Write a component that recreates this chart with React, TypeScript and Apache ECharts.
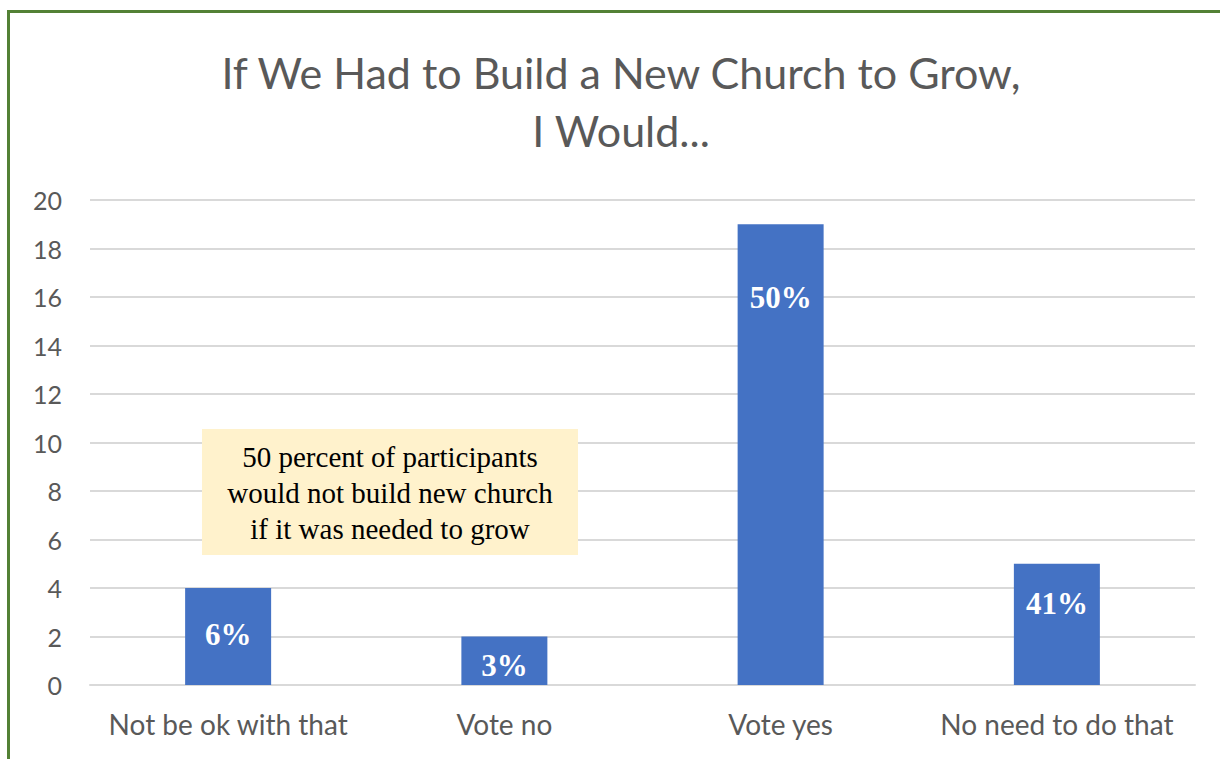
import React, { useEffect, useRef } from "react";
import * as echarts from "echarts";

const categories = ["Not be ok with that", "Vote no", "Vote yes", "No need to do that"];
const counts = [4, 2, 19, 5];
const percentLabels = ["6%", "3%", "50%", "41%"];
const labelOffsets = [26, 8, 53, 19];
const titleLines = ["If We Had to Build a New Church to Grow,", "I Would..."];
const noteLines = ["50 percent of participants", "would not build new church", "if it was needed to grow"];

export default function App() {
  const ref = useRef<HTMLDivElement>(null);
  useEffect(() => {
    document.body.style.margin = "0";
    const chart = echarts.init(ref.current!, null, { renderer: "svg" });
    const option: any = {
      animation: false,
      backgroundColor: "#ffffff",
      grid: { left: 90, right: 25, top: 200, bottom: 74 },
      xAxis: {
        type: "category",
        data: categories,
        axisLine: { show: true, lineStyle: { color: "#d9d9d9", width: 2 } },
        axisTick: { show: false },
        axisLabel: { color: "#595959", fontSize: 28, fontFamily: "Lato", margin: 25, interval: 0 },
      },
      yAxis: {
        type: "value",
        min: 0,
        max: 20,
        interval: 2,
        axisLine: { show: false },
        axisTick: { show: false },
        splitLine: { lineStyle: { color: "#d9d9d9", width: 2 } },
        axisLabel: { color: "#595959", fontSize: 25, fontFamily: "Lato", margin: 28 },
      },
      series: [
        {
          type: "bar",
          barWidth: 86,
          itemStyle: { color: "#4472c4" },
          data: counts.map((v, i) => ({
            value: v,
            label: {
              show: true,
              position: "insideTop",
              offset: [0, labelOffsets[i]],
              formatter: percentLabels[i],
              color: "#ffffff",
              fontFamily: "Liberation Serif",
              fontWeight: "bold",
              fontSize: 31,
            },
          })),
        },
      ],
      graphic: [
        {
          type: "text",
          z: 100,
          x: 621,
          y: 101,
          style: {
            text: titleLines.join("\n"),
            fill: "#595959",
            font: "43px Lato",
            lineHeight: 58,
            align: "center",
            verticalAlign: "middle",
          },
        },
        { type: "line", z: 100, shape: { x1: 8.5, y1: 10, x2: 8.5, y2: 759 }, style: { stroke: "#538135", lineWidth: 3 } },
        { type: "line", z: 100, shape: { x1: 7, y1: 11.5, x2: 1220, y2: 11.5 }, style: { stroke: "#538135", lineWidth: 3 } },
        { type: "rect", z: 100, shape: { x: 202, y: 429, width: 376, height: 126 }, style: { fill: "#fff2cc" } },
        {
          type: "text",
          z: 101,
          x: 390,
          y: 493,
          style: {
            text: noteLines.join("\n"),
            fill: "#000000",
            font: "29px 'Liberation Serif'",
            lineHeight: 36,
            align: "center",
            verticalAlign: "middle",
          },
        },
      ],
    };
    chart.setOption(option);
    return () => chart.dispose();
  }, []);
  return <div ref={ref} style={{ position: "absolute", left: 0, top: 0, width: 1220, height: 759 }} />;
}
